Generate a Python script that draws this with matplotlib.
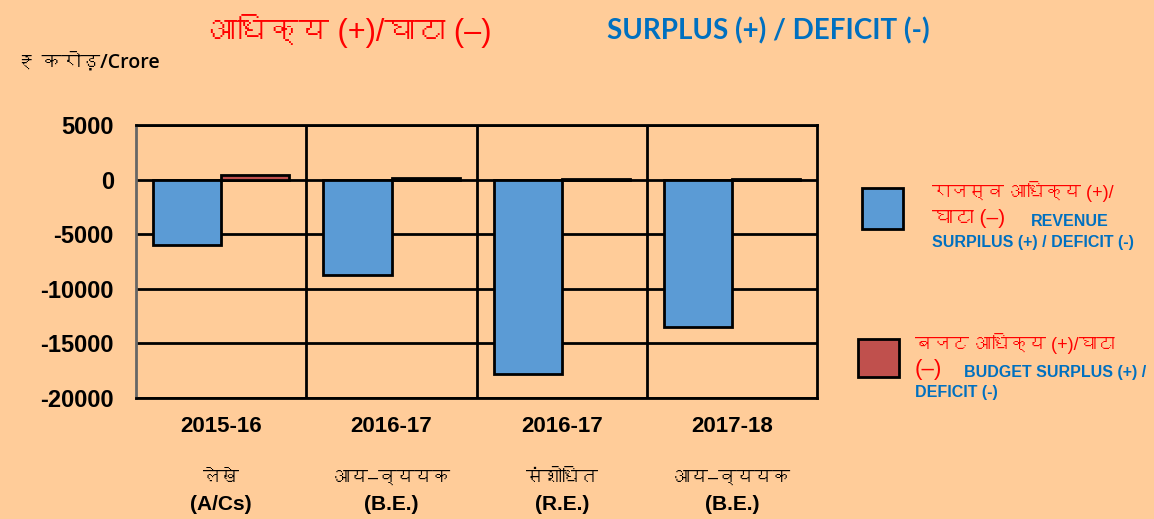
import matplotlib
matplotlib.use('Agg')
import matplotlib.pyplot as plt
from matplotlib import font_manager
from matplotlib.ft2font import FT2Font
from matplotlib.patches import Rectangle
import numpy as np


years = ['2015-16', '2016-17', '2016-17', '2017-18']
stages_hi = ['लेखे', 'आय–व्ययक', 'संशोधित', 'आय–व्ययक']
stages_en = ['(A/Cs)', '(B.E.)', '(R.E.)', '(B.E.)']
revenue = [-5980, -8750, -17800, -13500]
budget = [440, 110, 60, 80]
y_ticks = [5000, 0, -5000, -10000, -15000, -20000]

BG = '#FFCC99'
BLUE = '#5B9BD5'
RED = '#C0504D'
TITLE_RED = '#FF0000'
TITLE_BLUE = '#0070C0'


def find_devanagari():
    """
    Look for any installed font that has Devanagari glyphs
    """
    for f in font_manager.fontManager.ttflist:
        try:
            if 0x0906 in FT2Font(f.fname).get_charmap():
                return f.name
        except Exception:
            pass
    return None


deva = find_devanagari()
names = {f.name for f in font_manager.fontManager.ttflist}
sans = 'Liberation Sans'
narrow = 'Liberation Sans Narrow' if 'Liberation Sans Narrow' in names else sans
mix = [sans, 'DejaVu Sans'] if deva is None else [sans, deva, 'DejaVu Sans']
mix_narrow = [narrow, 'DejaVu Sans'] if deva is None else [narrow, deva, 'DejaVu Sans']
plt.rcParams['font.family'] = mix

fig = plt.figure(figsize=(11.54, 5.19), dpi=100, facecolor=BG)
ax = fig.add_axes([0.1179, 0.2331, 0.5903, 0.5261])
ax.set_facecolor(BG)

x = np.arange(len(years))
w = 0.4
ax.bar(x - w / 2, revenue, w, color=BLUE, edgecolor='black', linewidth=2, zorder=3)
ax.bar(x + w / 2, budget, w, color=RED, edgecolor='black', linewidth=2, zorder=3)

ax.set_xlim(-0.5, len(years) - 0.5)
ax.set_ylim(-20000, 5000)
ax.set_yticks(y_ticks)
ax.set_yticklabels([str(v) for v in y_ticks], fontsize=17, fontweight='bold', family=sans)
ax.tick_params(axis='y', length=0, pad=16)
ax.set_xticks([])
for v in y_ticks:
    ax.axhline(v, color='black', linewidth=2, zorder=1)
for b in np.arange(0.5, len(years) - 0.5, 1):
    ax.axvline(b, color='black', linewidth=2, zorder=1)
for s in ax.spines.values():
    s.set_linewidth(2)
ax.spines['left'].set_color('#666666')

# category labels below the axis
tr = ax.get_xaxis_transform()
for i in range(len(years)):
    ax.text(x[i], -0.105, years[i], transform=tr, ha='center', va='center',
            fontsize=16, fontweight='bold', family=mix_narrow)
    ax.text(x[i], -0.295, stages_hi[i], transform=tr, ha='center', va='center',
            fontsize=13, family=mix_narrow)
    ax.text(x[i], -0.39, stages_en[i], transform=tr, ha='center', va='center',
            fontsize=15, fontweight='bold', family=mix_narrow)

# titles
fig.text(0.303, 0.94, 'आधिक्य (+)/घाटा (–)', color=TITLE_RED, fontsize=22,
         ha='center', va='center')
fig.text(0.526, 0.94, 'SURPLUS (+) / DEFICIT (-)', color=TITLE_BLUE, fontsize=20,
         fontweight='bold', ha='left', va='center', family=['Lato', 'DejaVu Sans'])
fig.text(0.015, 0.88, '₹ करोड़/Crore', color='black', fontsize=14,
         fontweight='semibold', ha='left', va='center', family=['Open Sans'] + mix)

# legend
fig.add_artist(Rectangle((862 / 1154, 1 - 229 / 519), 41 / 1154, 41 / 519,
                         facecolor=BLUE, edgecolor='black', linewidth=2,
                         transform=fig.transFigure))
fig.add_artist(Rectangle((858 / 1154, 1 - 377 / 519), 41 / 1154, 38 / 519,
                         facecolor=RED, edgecolor='black', linewidth=2,
                         transform=fig.transFigure))
fig.text(932 / 1154, 1 - 192 / 519, 'राजस्व आधिक्य (+)/', color=TITLE_RED,
         fontsize=13, ha='left', va='center')
fig.text(932 / 1154, 1 - 218 / 519, 'घाटा (–)', color=TITLE_RED,
         fontsize=15, ha='left', va='center')
fig.text(1031 / 1154, 1 - 221 / 519, 'REVENUE', color=TITLE_BLUE,
         fontsize=11.5, fontweight='bold', ha='left', va='center')
fig.text(932 / 1154, 1 - 242 / 519, 'SURPILUS (+) / DEFICIT (-)', color=TITLE_BLUE,
         fontsize=11.5, fontweight='bold', ha='left', va='center')
fig.text(915 / 1154, 1 - 343 / 519, 'बजट आधिक्य (+)/घाटा', color=TITLE_RED,
         fontsize=13, ha='left', va='center')
fig.text(915 / 1154, 1 - 370 / 519, '(–)', color=TITLE_RED,
         fontsize=16, ha='left', va='center')
fig.text(964 / 1154, 1 - 372 / 519, 'BUDGET SURPLUS (+) /', color=TITLE_BLUE,
         fontsize=11.5, fontweight='bold', ha='left', va='center')
fig.text(915 / 1154, 1 - 393 / 519, 'DEFICIT (-)', color=TITLE_BLUE,
         fontsize=11.5, fontweight='bold', ha='left', va='center')

fig.savefig('out.png', dpi=100, facecolor=BG)
